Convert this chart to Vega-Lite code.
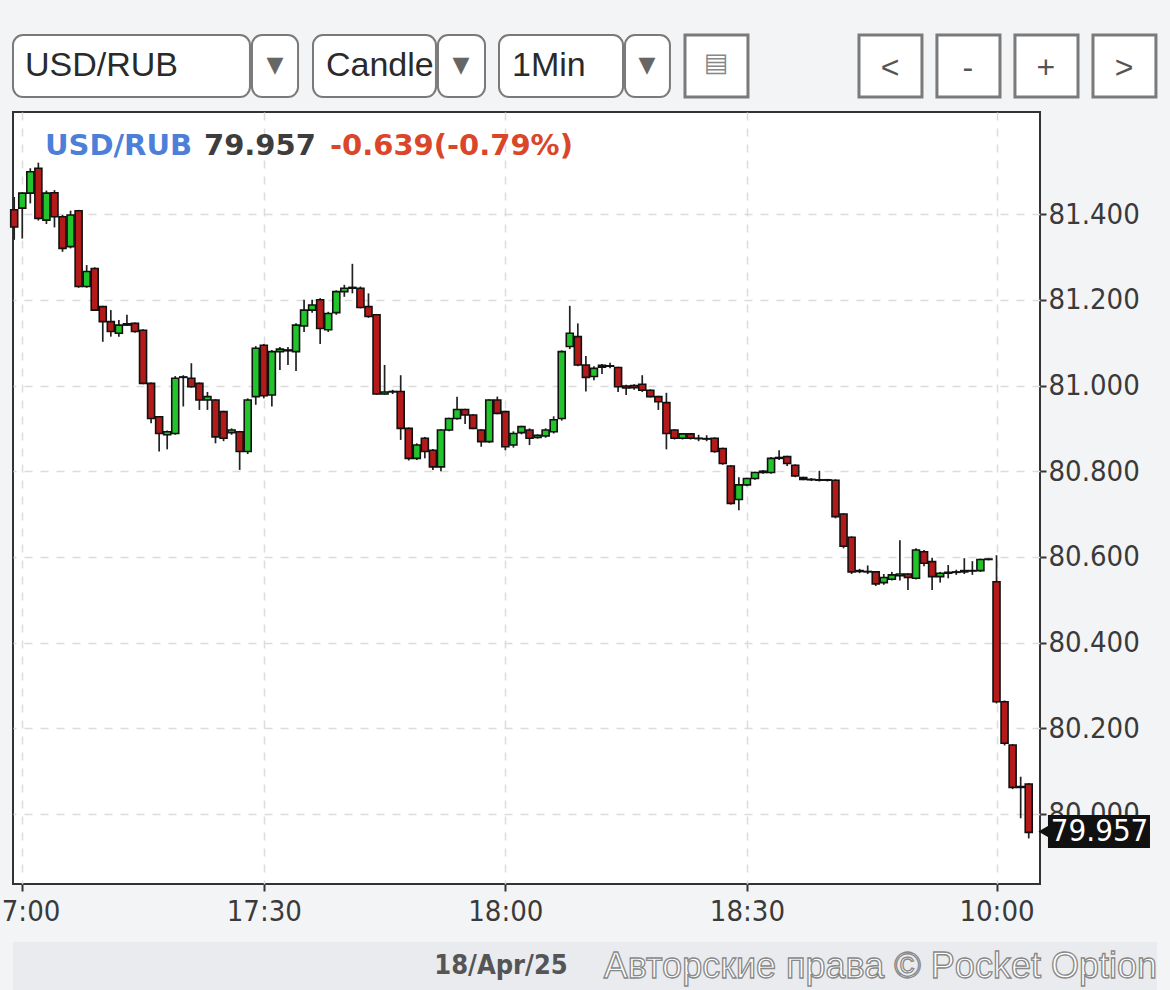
{
  "$schema": "https://vega.github.io/schema/vega-lite/v6.json",
  "width": 1027,
  "height": 772,
  "autosize": {"type": "none"},
  "padding": {"left": 13, "top": 112, "right": 130, "bottom": 106},
  "background": "#f3f4f6",
  "config": {
    "view": {"fill": "white", "stroke": "#333", "strokeWidth": 2}
  },
  "datasets": {
    "candles": [
      {"i": -1, "open": 81.41, "high": 81.44, "low": 81.34, "close": 81.37},
      {"i": 0, "open": 81.414, "high": 81.451, "low": 81.343, "close": 81.449},
      {"i": 1, "open": 81.449, "high": 81.507, "low": 81.425, "close": 81.499},
      {"i": 2, "open": 81.507, "high": 81.52, "low": 81.385, "close": 81.39},
      {"i": 3, "open": 81.386, "high": 81.455, "low": 81.377, "close": 81.449},
      {"i": 4, "open": 81.45, "high": 81.456, "low": 81.369, "close": 81.394},
      {"i": 5, "open": 81.394, "high": 81.398, "low": 81.312, "close": 81.32},
      {"i": 6, "open": 81.324, "high": 81.408, "low": 81.32, "close": 81.398},
      {"i": 7, "open": 81.408, "high": 81.41, "low": 81.228, "close": 81.231},
      {"i": 8, "open": 81.231, "high": 81.281, "low": 81.228, "close": 81.266},
      {"i": 9, "open": 81.273, "high": 81.276, "low": 81.174, "close": 81.176},
      {"i": 10, "open": 81.184, "high": 81.186, "low": 81.102, "close": 81.149},
      {"i": 11, "open": 81.149, "high": 81.176, "low": 81.114, "close": 81.126},
      {"i": 12, "open": 81.122, "high": 81.153, "low": 81.114, "close": 81.141},
      {"i": 13, "open": 81.141, "high": 81.165, "low": 81.139, "close": 81.144},
      {"i": 14, "open": 81.145, "high": 81.147, "low": 81.123, "close": 81.126},
      {"i": 15, "open": 81.129, "high": 81.131, "low": 81.003, "close": 81.005},
      {"i": 16, "open": 81.005, "high": 81.007, "low": 80.912, "close": 80.923},
      {"i": 17, "open": 80.927, "high": 80.929, "low": 80.846, "close": 80.888},
      {"i": 18, "open": 80.885, "high": 80.895, "low": 80.851, "close": 80.892},
      {"i": 19, "open": 80.888, "high": 81.022, "low": 80.885, "close": 81.017},
      {"i": 20, "open": 81.02, "high": 81.024, "low": 80.951, "close": 81.019},
      {"i": 21, "open": 81.017, "high": 81.052, "low": 80.995, "close": 80.997},
      {"i": 22, "open": 81.005, "high": 81.007, "low": 80.943, "close": 80.966},
      {"i": 23, "open": 80.966, "high": 80.985, "low": 80.943, "close": 80.974},
      {"i": 24, "open": 80.966, "high": 80.968, "low": 80.865, "close": 80.88},
      {"i": 25, "open": 80.939, "high": 80.941, "low": 80.87, "close": 80.877},
      {"i": 26, "open": 80.89, "high": 80.9, "low": 80.885, "close": 80.896},
      {"i": 27, "open": 80.892, "high": 80.894, "low": 80.803, "close": 80.846},
      {"i": 28, "open": 80.846, "high": 80.97, "low": 80.84, "close": 80.966},
      {"i": 29, "open": 80.974, "high": 81.092, "low": 80.955, "close": 81.087},
      {"i": 30, "open": 81.094, "high": 81.097, "low": 80.97, "close": 80.976},
      {"i": 31, "open": 80.978, "high": 81.083, "low": 80.951, "close": 81.079},
      {"i": 32, "open": 81.079, "high": 81.09, "low": 81.036, "close": 81.085},
      {"i": 33, "open": 81.083, "high": 81.09, "low": 81.048, "close": 81.081},
      {"i": 34, "open": 81.079, "high": 81.145, "low": 81.034, "close": 81.141},
      {"i": 35, "open": 81.139, "high": 81.2, "low": 81.125, "close": 81.176},
      {"i": 36, "open": 81.176, "high": 81.2, "low": 81.17, "close": 81.188},
      {"i": 37, "open": 81.2, "high": 81.204, "low": 81.097, "close": 81.133},
      {"i": 38, "open": 81.13, "high": 81.172, "low": 81.125, "close": 81.168},
      {"i": 39, "open": 81.17, "high": 81.222, "low": 81.165, "close": 81.219},
      {"i": 40, "open": 81.219, "high": 81.235, "low": 81.207, "close": 81.227},
      {"i": 41, "open": 81.227, "high": 81.284, "low": 81.215, "close": 81.229},
      {"i": 42, "open": 81.227, "high": 81.231, "low": 81.18, "close": 81.182},
      {"i": 43, "open": 81.184, "high": 81.215, "low": 81.158, "close": 81.161},
      {"i": 44, "open": 81.165, "high": 81.167, "low": 80.978, "close": 80.98},
      {"i": 45, "open": 80.98, "high": 81.048, "low": 80.978, "close": 80.985},
      {"i": 46, "open": 80.985, "high": 80.99, "low": 80.98, "close": 80.986},
      {"i": 47, "open": 80.986, "high": 81.024, "low": 80.873, "close": 80.9},
      {"i": 48, "open": 80.9, "high": 80.902, "low": 80.825, "close": 80.83},
      {"i": 49, "open": 80.83, "high": 80.865, "low": 80.826, "close": 80.861},
      {"i": 50, "open": 80.877, "high": 80.88, "low": 80.83, "close": 80.846},
      {"i": 51, "open": 80.849, "high": 80.852, "low": 80.803, "close": 80.81},
      {"i": 52, "open": 80.81, "high": 80.898, "low": 80.8, "close": 80.896},
      {"i": 53, "open": 80.896, "high": 80.925, "low": 80.893, "close": 80.923},
      {"i": 54, "open": 80.923, "high": 80.974, "low": 80.92, "close": 80.944},
      {"i": 55, "open": 80.944, "high": 80.946, "low": 80.91, "close": 80.931},
      {"i": 56, "open": 80.931, "high": 80.933, "low": 80.898, "close": 80.9},
      {"i": 57, "open": 80.896, "high": 80.898, "low": 80.857, "close": 80.869},
      {"i": 58, "open": 80.869, "high": 80.968, "low": 80.866, "close": 80.966},
      {"i": 59, "open": 80.966, "high": 80.974, "low": 80.933, "close": 80.935},
      {"i": 60, "open": 80.939, "high": 80.941, "low": 80.849, "close": 80.857},
      {"i": 61, "open": 80.861, "high": 80.893, "low": 80.855, "close": 80.888},
      {"i": 62, "open": 80.89, "high": 80.906, "low": 80.886, "close": 80.904},
      {"i": 63, "open": 80.896, "high": 80.9, "low": 80.861, "close": 80.877},
      {"i": 64, "open": 80.879, "high": 80.886, "low": 80.876, "close": 80.884},
      {"i": 65, "open": 80.882, "high": 80.9, "low": 80.878, "close": 80.896},
      {"i": 66, "open": 80.892, "high": 80.928, "low": 80.888, "close": 80.92},
      {"i": 67, "open": 80.923, "high": 81.082, "low": 80.918, "close": 81.079},
      {"i": 68, "open": 81.091, "high": 81.186, "low": 81.085, "close": 81.122},
      {"i": 69, "open": 81.114, "high": 81.145, "low": 81.045, "close": 81.048},
      {"i": 70, "open": 81.048, "high": 81.069, "low": 80.986, "close": 81.019},
      {"i": 71, "open": 81.021, "high": 81.045, "low": 81.012, "close": 81.04},
      {"i": 72, "open": 81.043, "high": 81.05, "low": 81.027, "close": 81.047},
      {"i": 73, "open": 81.045, "high": 81.053, "low": 81.04, "close": 81.046},
      {"i": 74, "open": 81.042, "high": 81.044, "low": 80.985, "close": 80.997},
      {"i": 75, "open": 80.999, "high": 81.002, "low": 80.978, "close": 80.994},
      {"i": 76, "open": 81.0, "high": 81.003, "low": 80.99, "close": 80.995},
      {"i": 77, "open": 81.003, "high": 81.024, "low": 80.985, "close": 80.989},
      {"i": 78, "open": 80.989, "high": 80.991, "low": 80.972, "close": 80.974},
      {"i": 79, "open": 80.974, "high": 80.976, "low": 80.943, "close": 80.962},
      {"i": 80, "open": 80.96, "high": 80.983, "low": 80.851, "close": 80.888},
      {"i": 81, "open": 80.896, "high": 80.898, "low": 80.874, "close": 80.877},
      {"i": 82, "open": 80.877, "high": 80.889, "low": 80.874, "close": 80.887},
      {"i": 83, "open": 80.887, "high": 80.889, "low": 80.874, "close": 80.877},
      {"i": 84, "open": 80.877, "high": 80.885, "low": 80.87, "close": 80.876},
      {"i": 85, "open": 80.876, "high": 80.884, "low": 80.87, "close": 80.875},
      {"i": 86, "open": 80.877, "high": 80.879, "low": 80.843, "close": 80.846},
      {"i": 87, "open": 80.853, "high": 80.855, "low": 80.815, "close": 80.818},
      {"i": 88, "open": 80.812, "high": 80.814, "low": 80.722, "close": 80.725},
      {"i": 89, "open": 80.734, "high": 80.786, "low": 80.709, "close": 80.768},
      {"i": 90, "open": 80.768, "high": 80.785, "low": 80.765, "close": 80.783},
      {"i": 91, "open": 80.783, "high": 80.799, "low": 80.78, "close": 80.797},
      {"i": 92, "open": 80.797, "high": 80.803, "low": 80.794, "close": 80.8},
      {"i": 93, "open": 80.797, "high": 80.833, "low": 80.794, "close": 80.83},
      {"i": 94, "open": 80.83, "high": 80.849, "low": 80.826, "close": 80.832},
      {"i": 95, "open": 80.834, "high": 80.836, "low": 80.812, "close": 80.818},
      {"i": 96, "open": 80.814, "high": 80.816, "low": 80.786, "close": 80.789},
      {"i": 97, "open": 80.785, "high": 80.787, "low": 80.779, "close": 80.781},
      {"i": 98, "open": 80.781, "high": 80.784, "low": 80.777, "close": 80.78},
      {"i": 99, "open": 80.78, "high": 80.801, "low": 80.776, "close": 80.779},
      {"i": 100, "open": 80.779, "high": 80.782, "low": 80.776, "close": 80.78},
      {"i": 101, "open": 80.779, "high": 80.781, "low": 80.69, "close": 80.694},
      {"i": 102, "open": 80.7, "high": 80.702, "low": 80.62, "close": 80.625},
      {"i": 103, "open": 80.646, "high": 80.648, "low": 80.56, "close": 80.565},
      {"i": 104, "open": 80.568, "high": 80.572, "low": 80.562, "close": 80.566},
      {"i": 105, "open": 80.566, "high": 80.58, "low": 80.56, "close": 80.565},
      {"i": 106, "open": 80.565, "high": 80.567, "low": 80.532, "close": 80.537},
      {"i": 107, "open": 80.54, "high": 80.56, "low": 80.535, "close": 80.552},
      {"i": 108, "open": 80.548, "high": 80.565, "low": 80.545, "close": 80.558},
      {"i": 109, "open": 80.556, "high": 80.639, "low": 80.545, "close": 80.56},
      {"i": 110, "open": 80.56, "high": 80.562, "low": 80.523, "close": 80.552},
      {"i": 111, "open": 80.55, "high": 80.62, "low": 80.547, "close": 80.616},
      {"i": 112, "open": 80.612, "high": 80.616, "low": 80.578, "close": 80.585},
      {"i": 113, "open": 80.589, "high": 80.598, "low": 80.523, "close": 80.554},
      {"i": 114, "open": 80.554, "high": 80.565, "low": 80.54, "close": 80.562},
      {"i": 115, "open": 80.562, "high": 80.581, "low": 80.55, "close": 80.564},
      {"i": 116, "open": 80.564, "high": 80.57, "low": 80.558, "close": 80.565},
      {"i": 117, "open": 80.565, "high": 80.597, "low": 80.56, "close": 80.568},
      {"i": 118, "open": 80.568, "high": 80.59, "low": 80.558, "close": 80.567},
      {"i": 119, "open": 80.568, "high": 80.596, "low": 80.565, "close": 80.594},
      {"i": 120, "open": 80.594, "high": 80.597, "low": 80.592, "close": 80.595},
      {"i": 121, "open": 80.542, "high": 80.604, "low": 80.258, "close": 80.262},
      {"i": 122, "open": 80.262, "high": 80.265, "low": 80.16, "close": 80.165},
      {"i": 123, "open": 80.161, "high": 80.163, "low": 80.058, "close": 80.062},
      {"i": 124, "open": 80.064, "high": 80.087, "low": 79.99, "close": 80.062},
      {"i": 125, "open": 80.07, "high": 80.072, "low": 79.943, "close": 79.957}
    ]
  },
  "layer": [
    {
      "data": {"name": "candles"},
      "mark": {"type": "rule", "color": "#222", "strokeWidth": 1.7},
      "encoding": {
        "x": {
          "field": "i", "type": "quantitative",
          "scale": {"domain": [-1.15, 126.4], "nice": false, "zero": false, "padding": 0},
          "axis": {
            "title": null,
            "values": [0, 30, 60, 90, 121],
            "labelExpr": "datum.value == 0 ? '17:00' : datum.value == 30 ? '17:30' : datum.value == 60 ? '18:00' : datum.value == 90 ? '18:30' : '10:00'",
            "labelFont": "DejaVu Sans Condensed",
            "labelFontSize": 29,
            "labelColor": "#3a3a3a",
            "labelPadding": 6,
            "labelOverlap": false,
            "labelFlush": false,
            "labelBound": false,
            "domain": false,
            "tickSize": 7,
            "tickWidth": 2,
            "tickColor": "#333",
            "grid": true,
            "gridColor": "#dcdcdc",
            "gridDash": [8, 8],
            "gridWidth": 1.5
          }
        },
        "y": {
          "field": "low", "type": "quantitative",
          "scale": {"domain": [79.8366, 81.6383], "nice": false, "zero": false, "padding": 0},
          "axis": {
            "title": null,
            "orient": "right",
            "values": [80, 80.2, 80.4, 80.6, 80.8, 81, 81.2, 81.4],
            "format": ".3f",
            "labelFont": "DejaVu Sans Condensed",
            "labelFontSize": 29,
            "labelColor": "#3a3a3a",
            "labelPadding": 2,
            "domain": false,
            "tickSize": 6,
            "tickWidth": 2,
            "tickColor": "#333",
            "grid": true,
            "gridColor": "#dcdcdc",
            "gridDash": [8, 8],
            "gridWidth": 1.5
          }
        },
        "y2": {"field": "high"}
      }
    },
    {
      "data": {"name": "candles"},
      "mark": {"type": "bar", "width": 7, "stroke": "#111", "strokeWidth": 1.6},
      "encoding": {
        "x": {"field": "i", "type": "quantitative"},
        "y": {"field": "open", "type": "quantitative"},
        "y2": {"field": "close"},
        "fill": {
          "condition": {"test": "datum.close >= datum.open", "value": "#22c42b"},
          "value": "#b31a1a"
        }
      }
    },
    {
      "data": {"values": [{}]},
      "mark": {"type": "text", "text": "USD/RUB", "align": "left", "baseline": "middle", "font": "DejaVu Sans", "fontWeight": "bold", "fontSize": 29, "fill": "#4d7fd9"},
      "encoding": {"x": {"datum": 2.82}, "y": {"datum": 81.559}}
    },
    {
      "data": {"values": [{}]},
      "mark": {"type": "text", "text": "79.957", "align": "left", "baseline": "middle", "font": "DejaVu Sans", "fontWeight": "bold", "fontSize": 29, "fill": "#3d3d3d"},
      "encoding": {"x": {"datum": 22.57}, "y": {"datum": 81.559}}
    },
    {
      "data": {"values": [{}]},
      "mark": {"type": "text", "text": "-0.639(-0.79%)", "align": "left", "baseline": "middle", "font": "DejaVu Sans", "fontWeight": "bold", "fontSize": 29, "fill": "#d9462a"},
      "encoding": {"x": {"datum": 38.22}, "y": {"datum": 81.559}}
    },
    {
      "data": {"values": [{}]},
      "mark": {"type": "rect", "fill": "#111"},
      "encoding": {"x": {"datum": 127.39}, "x2": {"datum": 140.06}, "y": {"datum": 79.9976}, "y2": {"datum": 79.9206}}
    },
    {
      "data": {"values": [{}]},
      "mark": {"type": "point", "shape": "triangle-left", "filled": true, "fill": "#111", "size": 420, "opacity": 1},
      "encoding": {"x": {"datum": 127.3}, "y": {"datum": 79.959}}
    },
    {
      "data": {"values": [{}]},
      "mark": {"type": "text", "text": "79.957", "align": "center", "baseline": "middle", "font": "DejaVu Sans Condensed", "fontSize": 31, "fill": "white"},
      "encoding": {"x": {"datum": 133.8}, "y": {"datum": 79.959}}
    },
    {
      "data": {"values": [{}]},
      "mark": {"type": "rect", "fill": "#e9ebee"},
      "encoding": {"x": {"datum": -1.15}, "x2": {"datum": 140.93}, "y": {"datum": 79.7012}, "y2": {"datum": 79.5892}}
    },
    {
      "data": {"values": [{}]},
      "mark": {"type": "text", "text": "18/Apr/25", "align": "center", "baseline": "middle", "font": "DejaVu Sans Condensed", "fontWeight": "bold", "fontSize": 27, "fill": "#555"},
      "encoding": {"x": {"datum": 59.46}, "y": {"datum": 79.6453}}
    },
    {
      "data": {"values": [{}]},
      "mark": {"type": "text", "text": "Авторские права © Pocket Option", "align": "right", "baseline": "middle", "font": "Liberation Sans", "fontSize": 36, "fill": "white", "stroke": "#888", "strokeWidth": 1.3},
      "encoding": {"x": {"datum": 140.93}, "y": {"datum": 79.6429}}
    },
    {
      "data": {"values": [{}]},
      "mark": {"type": "rect", "fill": "white", "stroke": "#7a7a7a", "strokeWidth": 2, "cornerRadius": 10},
      "encoding": {"x": {"datum": -1.15}, "x2": {"datum": 28.28}, "y": {"datum": 81.8179}, "y2": {"datum": 81.6732}}
    },
    {
      "data": {"values": [{}]},
      "mark": {"type": "rect", "fill": "white", "stroke": "#7a7a7a", "strokeWidth": 2, "cornerRadius": 10},
      "encoding": {"x": {"datum": 36.11}, "x2": {"datum": 51.38}, "y": {"datum": 81.8179}, "y2": {"datum": 81.6732}}
    },
    {
      "data": {"values": [{}]},
      "mark": {"type": "rect", "fill": "white", "stroke": "#7a7a7a", "strokeWidth": 2, "cornerRadius": 10},
      "encoding": {"x": {"datum": 59.21}, "x2": {"datum": 74.61}, "y": {"datum": 81.8179}, "y2": {"datum": 81.6732}}
    },
    {
      "data": {"values": [{}]},
      "mark": {"type": "text", "text": "USD/RUB", "align": "left", "baseline": "middle", "font": "Liberation Sans", "fontSize": 34, "fill": "#2a2a2a"},
      "encoding": {"x": {"datum": 0.34}, "y": {"datum": 81.7456}}
    },
    {
      "data": {"values": [{}]},
      "mark": {"type": "text", "text": "Candle", "align": "left", "baseline": "middle", "font": "Liberation Sans", "fontSize": 34, "fill": "#2a2a2a"},
      "encoding": {"x": {"datum": 37.72}, "y": {"datum": 81.7456}}
    },
    {
      "data": {"values": [{}]},
      "mark": {"type": "text", "text": "1Min", "align": "left", "baseline": "middle", "font": "Liberation Sans", "fontSize": 34, "fill": "#2a2a2a"},
      "encoding": {"x": {"datum": 60.82}, "y": {"datum": 81.7456}}
    },
    {
      "data": {"values": [{}]},
      "mark": {"type": "rect", "fill": "white", "stroke": "#7a7a7a", "strokeWidth": 2, "cornerRadius": 10},
      "encoding": {"x": {"datum": 28.53}, "x2": {"datum": 34.25}, "y": {"datum": 81.8179}, "y2": {"datum": 81.6732}}
    },
    {
      "data": {"values": [{}]},
      "mark": {"type": "rect", "fill": "white", "stroke": "#7a7a7a", "strokeWidth": 2, "cornerRadius": 10},
      "encoding": {"x": {"datum": 51.63}, "x2": {"datum": 57.47}, "y": {"datum": 81.8179}, "y2": {"datum": 81.6732}}
    },
    {
      "data": {"values": [{}]},
      "mark": {"type": "rect", "fill": "white", "stroke": "#7a7a7a", "strokeWidth": 2, "cornerRadius": 10},
      "encoding": {"x": {"datum": 74.86}, "x2": {"datum": 80.44}, "y": {"datum": 81.8179}, "y2": {"datum": 81.6732}}
    },
    {
      "data": {"values": [{}]},
      "mark": {"type": "text", "text": "▼", "align": "center", "baseline": "middle", "font": "DejaVu Sans", "fontSize": 22, "fill": "#666"},
      "encoding": {"x": {"datum": 31.39}, "y": {"datum": 81.749}}
    },
    {
      "data": {"values": [{}]},
      "mark": {"type": "text", "text": "▼", "align": "center", "baseline": "middle", "font": "DejaVu Sans", "fontSize": 22, "fill": "#666"},
      "encoding": {"x": {"datum": 54.49}, "y": {"datum": 81.749}}
    },
    {
      "data": {"values": [{}]},
      "mark": {"type": "text", "text": "▼", "align": "center", "baseline": "middle", "font": "DejaVu Sans", "fontSize": 22, "fill": "#666"},
      "encoding": {"x": {"datum": 77.59}, "y": {"datum": 81.749}}
    },
    {
      "data": {"values": [{}]},
      "mark": {"type": "rect", "fill": "white", "stroke": "#7a7a7a", "strokeWidth": 3},
      "encoding": {"x": {"datum": 82.31}, "x2": {"datum": 90.13}, "y": {"datum": 81.8179}, "y2": {"datum": 81.6732}}
    },
    {
      "data": {"values": [{}]},
      "mark": {"type": "text", "text": "▤", "align": "center", "baseline": "middle", "font": "DejaVu Sans", "fontSize": 26, "fill": "#888"},
      "encoding": {"x": {"datum": 86.16}, "y": {"datum": 81.752}}
    },
    {
      "data": {"values": [{}]},
      "mark": {"type": "rect", "fill": "white", "stroke": "#7a7a7a", "strokeWidth": 3},
      "encoding": {"x": {"datum": 103.92}, "x2": {"datum": 111.74}, "y": {"datum": 81.8179}, "y2": {"datum": 81.6732}}
    },
    {
      "data": {"values": [{}]},
      "mark": {"type": "rect", "fill": "white", "stroke": "#7a7a7a", "strokeWidth": 3},
      "encoding": {"x": {"datum": 113.6}, "x2": {"datum": 121.43}, "y": {"datum": 81.8179}, "y2": {"datum": 81.6732}}
    },
    {
      "data": {"values": [{}]},
      "mark": {"type": "rect", "fill": "white", "stroke": "#7a7a7a", "strokeWidth": 3},
      "encoding": {"x": {"datum": 123.29}, "x2": {"datum": 131.12}, "y": {"datum": 81.8179}, "y2": {"datum": 81.6732}}
    },
    {
      "data": {"values": [{}]},
      "mark": {"type": "rect", "fill": "white", "stroke": "#7a7a7a", "strokeWidth": 3},
      "encoding": {"x": {"datum": 132.98}, "x2": {"datum": 140.8}, "y": {"datum": 81.8179}, "y2": {"datum": 81.6732}}
    },
    {
      "data": {"values": [{}]},
      "mark": {"type": "text", "text": "<", "align": "center", "baseline": "middle", "font": "Liberation Sans", "fontSize": 32, "fill": "#555"},
      "encoding": {"x": {"datum": 107.77}, "y": {"datum": 81.741}}
    },
    {
      "data": {"values": [{}]},
      "mark": {"type": "text", "text": "-", "align": "center", "baseline": "middle", "font": "Liberation Sans", "fontSize": 32, "fill": "#555"},
      "encoding": {"x": {"datum": 117.45}, "y": {"datum": 81.741}}
    },
    {
      "data": {"values": [{}]},
      "mark": {"type": "text", "text": "+", "align": "center", "baseline": "middle", "font": "Liberation Sans", "fontSize": 32, "fill": "#555"},
      "encoding": {"x": {"datum": 127.14}, "y": {"datum": 81.741}}
    },
    {
      "data": {"values": [{}]},
      "mark": {"type": "text", "text": ">", "align": "center", "baseline": "middle", "font": "Liberation Sans", "fontSize": 32, "fill": "#555"},
      "encoding": {"x": {"datum": 136.83}, "y": {"datum": 81.741}}
    }
  ]
}
